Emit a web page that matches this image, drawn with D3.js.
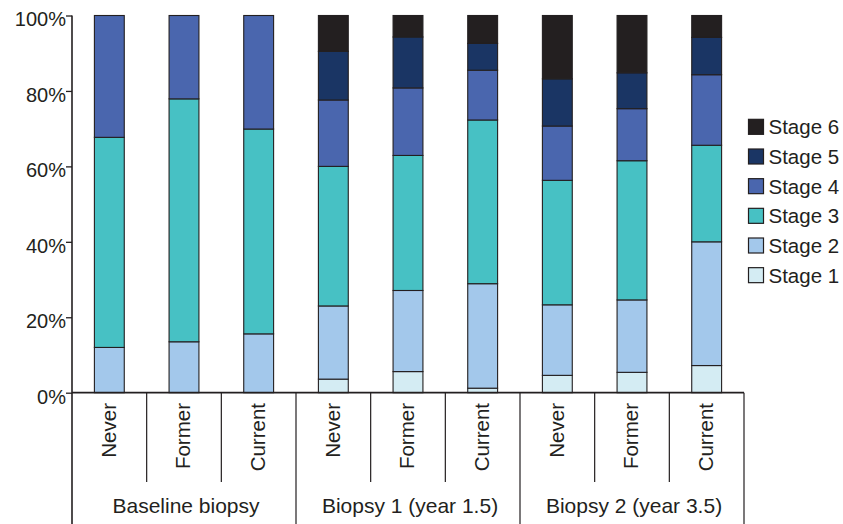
<!DOCTYPE html>
<html>
<head>
<meta charset="utf-8">
<script src="https://cdn.jsdelivr.net/npm/d3@7"></script>
<style>
  html, body { margin: 0; padding: 0; background: #fff; }
  svg { display: block; font-family: "Liberation Sans", Arial, sans-serif; }
</style>
</head>
<body>
<svg id="chart" width="843" height="524"></svg>
<script>
// ---- Data ----
const groups = ["Baseline biopsy", "Biopsy 1 (year 1.5)", "Biopsy 2 (year 3.5)"];
const smoking = ["Never", "Former", "Current"];
const stages = ["Stage 1", "Stage 2", "Stage 3", "Stage 4", "Stage 5", "Stage 6"];
const stage1 = [0, 0, 0, 3.6, 5.6, 1.2, 4.6, 5.4, 7.2];
const stage2 = [12.0, 13.5, 15.6, 19.4, 21.5, 27.7, 18.7, 19.2, 32.8];
const stage3 = [55.7, 64.4, 54.3, 37.0, 35.8, 43.4, 33.0, 36.9, 25.6];
const stage4 = [32.3, 22.1, 30.1, 17.6, 17.9, 13.2, 14.4, 13.8, 18.7];
const stage5 = [0, 0, 0, 12.9, 13.5, 7.1, 12.5, 9.5, 9.9];
const stage6 = [0, 0, 0, 9.5, 5.7, 7.4, 16.8, 15.2, 5.8];
const yTicks = [0, 20, 40, 60, 80, 100];

const colors = ["#d4ecf3", "#a3c8eb", "#47c1c4", "#4a66ae", "#1a3564", "#231f20"];
const ink = "#231f20";

// ---- Build table ----
const seriesVals = [stage1, stage2, stage3, stage4, stage5, stage6];
const rows = [];
groups.forEach((g, gi) => {
  smoking.forEach((s, si) => {
    const i = gi * smoking.length + si;
    const r = { key: g + "|" + s, group: g, cat: s };
    stages.forEach((st, k) => r[st] = seriesVals[k][i]);
    rows.push(r);
  });
});

const svg = d3.select("#chart");
const mLeft = 72, mRight = 744, mTop = 15.5, mBase = 392.7;

const x = d3.scaleBand().domain(rows.map(d => d.key)).range([mLeft, mRight])
  .paddingInner(0.6).paddingOuter(0.3);
const xFull = d3.scaleBand().domain(rows.map(d => d.key)).range([mLeft, mRight]).padding(0);
const y = d3.scaleLinear().domain([0, 100]).range([mBase, mTop]);
const color = d3.scaleOrdinal().domain(stages).range(colors);

const stacked = d3.stack().keys(stages)(rows);

// ---- Bars ----
svg.append("g").selectAll("g").data(stacked).join("g")
  .attr("fill", d => color(d.key))
  .selectAll("rect")
  .data(d => d.filter(p => p[1] - p[0] > 0))
  .join("rect")
  .attr("x", d => x(d.data.key))
  .attr("width", x.bandwidth())
  .attr("y", d => y(d[1]))
  .attr("height", d => y(d[0]) - y(d[1]))
  .attr("stroke", ink)
  .attr("stroke-width", 1.1);

// ---- Y axis ----
const yAxis = d3.axisLeft(y).tickValues(yTicks).tickFormat(d => d + "%").tickSizeOuter(0).tickSize(6);
const yg = svg.append("g").attr("transform", `translate(${mLeft},0)`).call(yAxis);
yg.select(".domain").remove();
yg.selectAll(".tick line").attr("stroke", ink).attr("stroke-width", 1.3);
yg.selectAll(".tick text").attr("fill", ink).attr("font-size", 20)
  .attr("font-family", "Liberation Sans, Arial, sans-serif")
  .attr("x", -6).attr("dy", "0.52em");

// vertical axis line extending through the category area
svg.append("line").attr("x1", mLeft).attr("x2", mLeft).attr("y1", mTop).attr("y2", 524)
  .attr("stroke", ink).attr("stroke-width", 1.6);
// horizontal base line
svg.append("line").attr("x1", mLeft).attr("x2", mRight).attr("y1", mBase).attr("y2", mBase)
  .attr("stroke", ink).attr("stroke-width", 1.8);

// ---- Category separators ----
const sepG = svg.append("g").attr("stroke", ink).attr("stroke-width", 1.2);
rows.forEach((d, i) => {
  const xr = xFull(d.key) + xFull.bandwidth();
  const isGroupEnd = (i % smoking.length) === smoking.length - 1;
  sepG.append("line").attr("x1", xr).attr("x2", xr)
    .attr("y1", mBase).attr("y2", isGroupEnd ? 524 : 482);
});

// ---- Category labels ----
svg.append("g").selectAll("text").data(rows).join("text")
  .attr("transform", d => `translate(${xFull(d.key) + xFull.bandwidth() / 2 - 1},403) rotate(-90)`)
  .attr("text-anchor", "end")
  .attr("dy", "0.36em")
  .attr("font-size", 20.5)
  .attr("fill", ink)
  .text(d => d.cat);

// ---- Group labels ----
svg.append("g").selectAll("text").data(groups).join("text")
  .attr("x", g => {
    const ks = rows.filter(r => r.group === g).map(r => r.key);
    return (xFull(ks[0]) + xFull(ks[ks.length - 1]) + xFull.bandwidth()) / 2 + 2;
  })
  .attr("y", 513)
  .attr("text-anchor", "middle")
  .attr("font-size", 21)
  .attr("fill", ink)
  .text(g => g);

// ---- Legend ----
const legendOrder = stages.slice().reverse();
const ly = d3.scaleBand().domain(legendOrder).range([112, 290]);
const lg = svg.append("g").selectAll("g").data(legendOrder).join("g")
  .attr("transform", d => `translate(748.5,${ly(d) + ly.bandwidth() / 2})`);
lg.append("rect").attr("x", 0).attr("y", -7.5).attr("width", 15).attr("height", 15)
  .attr("fill", d => color(d)).attr("stroke", ink).attr("stroke-width", 1.2);
lg.append("text").attr("x", 20).attr("dy", "0.36em")
  .attr("font-size", 20.5).attr("fill", ink).text(d => d);
</script>
</body>
</html>
